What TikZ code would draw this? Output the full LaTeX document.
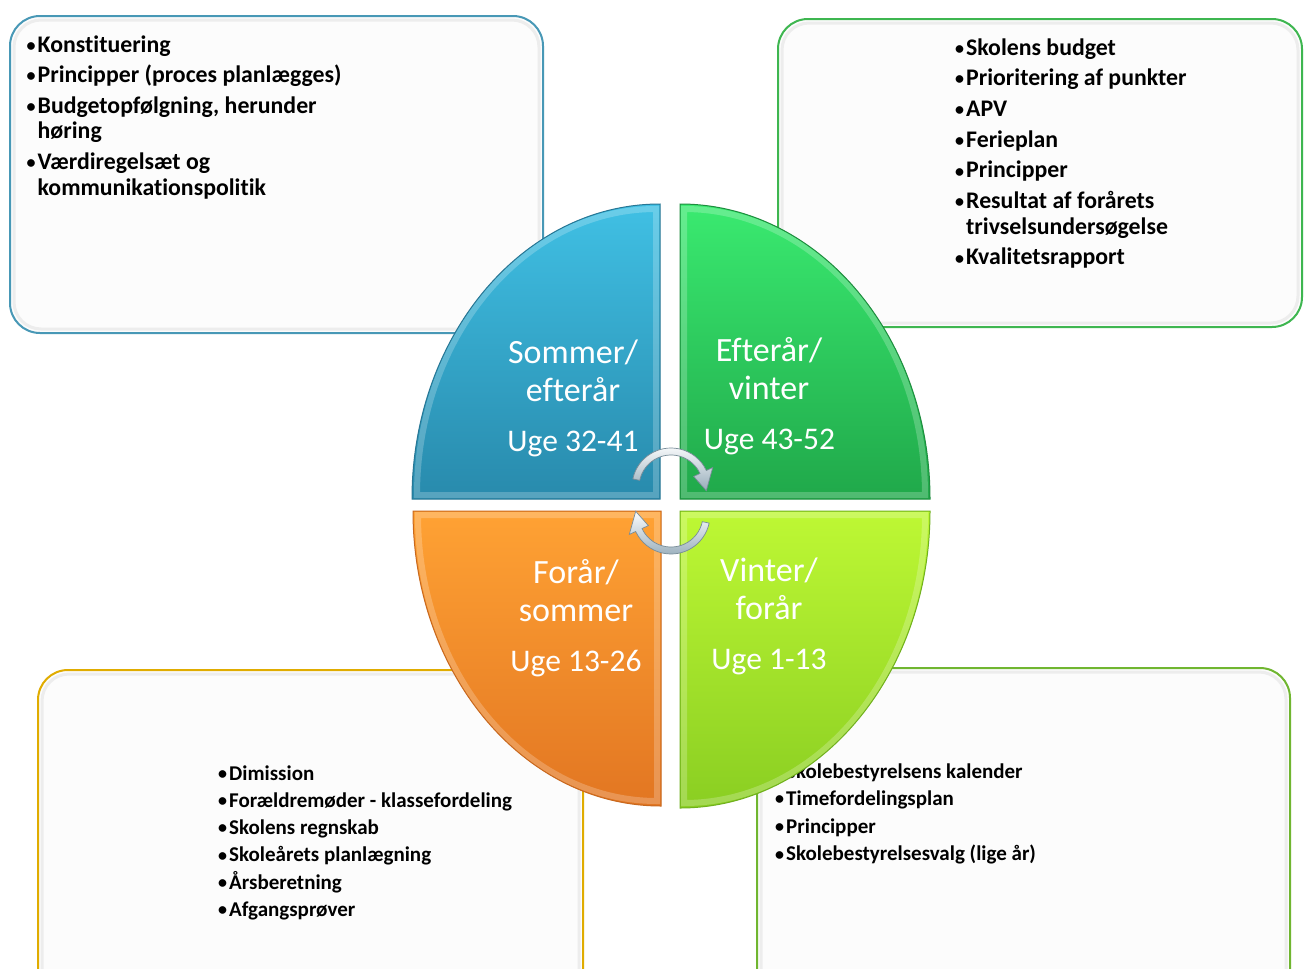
\documentclass[tikz,border=0pt]{standalone}
\usepackage{fontspec}
\setmainfont{Carlito}[Ligatures=NoCommon]
\usetikzlibrary{calc}
\definecolor{tealb}{RGB}{72,152,182}
\definecolor{greenb}{RGB}{62,182,80}
\definecolor{goldb}{RGB}{224,172,0}
\definecolor{limeb}{RGB}{112,182,48}
\definecolor{boxfill}{RGB}{252,252,252}
\definecolor{tlT}{RGB}{64,192,228}\definecolor{tlB}{RGB}{40,138,172}\definecolor{tlO}{RGB}{40,118,148}
\definecolor{trT}{RGB}{58,234,112}\definecolor{trB}{RGB}{32,168,74}\definecolor{trO}{RGB}{30,140,62}
\definecolor{blT}{RGB}{255,162,52}\definecolor{blB}{RGB}{226,118,34}\definecolor{blO}{RGB}{200,104,30}
\definecolor{brT}{RGB}{190,248,52}\definecolor{brB}{RGB}{138,206,34}\definecolor{brO}{RGB}{112,176,30}
\definecolor{arrF}{RGB}{214,226,234}\definecolor{arrD}{RGB}{150,172,186}\definecolor{arrO}{RGB}{120,140,152}
\newcommand{\bitem}[2]{\par\hangindent=#1\hangafter=1\noindent\makebox[#1][l]{\fontsize{18}{18}\selectfont\raisebox{0.8pt}{•}}#2}
\begin{document}
\begin{tikzpicture}[x=1pt,y=-1pt,
  infobox/.style={rounded corners=30pt, line width=2pt, fill=boxfill},
  innershade/.style={rounded corners=27pt, line width=3pt, draw=black!7},
  listtext/.style={anchor=base west, inner sep=0pt, text=black, font=\bfseries},
  quadlabel/.style={anchor=base, inner sep=0pt, text=white, font=\fontsize{34}{38}\selectfont},
  weeklabel/.style={anchor=base, inner sep=0pt, text=white, font=\fontsize{31.5}{38}\selectfont},
  bevel/.style={draw=white, line width=6pt, opacity=0.22},
  arrowshape/.style={top color=white!92!arrF, bottom color=arrD, draw=arrO, line width=0.7pt}]
\useasboundingbox (0,0) rectangle (1304,969);
\fill[white] (0,0) rectangle (1304,969);

% ---- boxes ----
\draw[infobox, draw=tealb] (10,16) rectangle (543,333);
\draw[innershade] (14,20) rectangle (539,329);
\draw[infobox, draw=greenb] (778,19) rectangle (1302,327);
\draw[innershade] (782,23) rectangle (1298,323);
\draw[infobox, draw=goldb] (38,670) rectangle (583,1000);
\draw[innershade] (42,674) rectangle (579,996);
\draw[infobox, draw=limeb] (757,668) rectangle (1290,1000);
\draw[innershade] (761,672) rectangle (1286,996);

% ---- box texts ----
\node[listtext] (t1) at (26.5,52) {\parbox[t]{500pt}{\fontsize{23.8}{25.6}\selectfont\setlength\parskip{5pt}%
  \bitem{11pt}{Konstituering}%
  \bitem{11pt}{Principper (proces planlægges)}%
  \bitem{11pt}{Budgetopfølgning, herunder\newline høring}%
  \bitem{11pt}{Værdiregelsæt og\newline kommunikationspolitik}}};
\node[listtext] (t2) at (955,55) {\parbox[t]{340pt}{\fontsize{23.8}{25.8}\selectfont\setlength\parskip{4.9pt}%
  \bitem{11pt}{Skolens budget}%
  \bitem{11pt}{Prioritering af punkter}%
  \bitem{11pt}{APV}%
  \bitem{11pt}{Ferieplan}%
  \bitem{11pt}{Principper}%
  \bitem{11pt}{Resultat af forårets\newline trivselsundersøgelse}%
  \bitem{11pt}{Kvalitetsrapport}}};
\node[listtext] (t3) at (218,780) {\parbox[t]{360pt}{\fontsize{21}{27.3}\selectfont%
  \bitem{11pt}{Dimission}%
  \bitem{11pt}{Forældremøder - klassefordeling}%
  \bitem{11pt}{Skolens regnskab}%
  \bitem{11pt}{Skoleårets planlægning}%
  \bitem{11pt}{Årsberetning}%
  \bitem{11pt}{Afgangsprøver}}};
\node[listtext] (t4) at (775,778) {\parbox[t]{400pt}{\fontsize{21}{27.6}\selectfont%
  \bitem{11pt}{Skolebestyrelsens kalender}%
  \bitem{11pt}{Timefordelingsplan}%
  \bitem{11pt}{Principper}%
  \bitem{11pt}{Skolebestyrelsesvalg (lige år)}}};

% ---- quadrants ----
% top left
\shade[top color=tlT, bottom color=tlB] (660,499) -- (412,499) arc[start angle=180, end angle=270, x radius=248, y radius=295] -- cycle;
\draw[bevel] (656,495) -- (417,495) arc[start angle=180, end angle=270, x radius=239, y radius=286] -- cycle;
\draw[tlO, line width=1pt] (660,499) -- (412,499) arc[start angle=180, end angle=270, x radius=248, y radius=295] -- cycle;
% top right
\shade[top color=trT, bottom color=trB] (680,499) -- (680,204) arc[start angle=270, end angle=360, x radius=250, y radius=295] -- cycle;
\draw[bevel] (684,495) -- (684,209) arc[start angle=270, end angle=360, x radius=241, y radius=286] -- cycle;
\draw[trO, line width=1pt] (680,499) -- (680,204) arc[start angle=270, end angle=360, x radius=250, y radius=295] -- cycle;
% bottom left
\shade[top color=blT, bottom color=blB] (661,511) -- (661,806) arc[start angle=90, end angle=180, x radius=248, y radius=295] -- cycle;
\draw[bevel] (657,515) -- (657,801) arc[start angle=90, end angle=180, x radius=239, y radius=286] -- cycle;
\draw[blO, line width=1pt] (661,511) -- (661,806) arc[start angle=90, end angle=180, x radius=248, y radius=295] -- cycle;
% bottom right
\shade[top color=brT, bottom color=brB] (680,511) -- (930,511) arc[start angle=0, end angle=90, x radius=250, y radius=297] -- cycle;
\draw[bevel] (684,515) -- (925,515) arc[start angle=0, end angle=90, x radius=241, y radius=288] -- cycle;
\draw[brO, line width=1pt] (680,511) -- (930,511) arc[start angle=0, end angle=90, x radius=250, y radius=297] -- cycle;

% ---- quadrant labels ----
\node[quadlabel] (q1) at (573,363) {\begin{tabular}[t]{@{}c@{}}Sommer/\\efterår\end{tabular}};
\node[weeklabel] (w1) at (573,451) {Uge 32-41};
\node[quadlabel] (q2) at (769,361) {\begin{tabular}[t]{@{}c@{}}Efterår/\\vinter\end{tabular}};
\node[weeklabel] (w2) at (769.5,449) {Uge 43-52};
\node[quadlabel] (q3) at (576,583) {\begin{tabular}[t]{@{}c@{}}Forår/\\sommer\end{tabular}};
\node[weeklabel] (w3) at (576,671) {Uge 13-26};
\node[quadlabel] (q4) at (769,581.5) {\begin{tabular}[t]{@{}c@{}}Vinter/\\forår\end{tabular}};
\node[weeklabel] (w4) at (769,669) {Uge 1-13};

% ---- circular arrows ----
\coordinate (C1) at (671,487);
\coordinate (C2) at (671,515);
\path[arrowshape] ($(C1)+(192:39)$) arc[start angle=192, end angle=335, radius=39]
  -- ($(C1)+(335:46)$) -- ($(C1)+(6:35.5)$) -- ($(C1)+(335:25)$) -- ($(C1)+(335:32)$)
  arc[start angle=335, end angle=192, radius=32] -- cycle;
\path[arrowshape] ($(C2)+(12:39)$) arc[start angle=12, end angle=155, radius=39]
  -- ($(C2)+(155:46)$) -- ($(C2)+(186:35.5)$) -- ($(C2)+(155:25)$) -- ($(C2)+(155:32)$)
  arc[start angle=155, end angle=12, radius=32] -- cycle;
\end{tikzpicture}
\end{document}
